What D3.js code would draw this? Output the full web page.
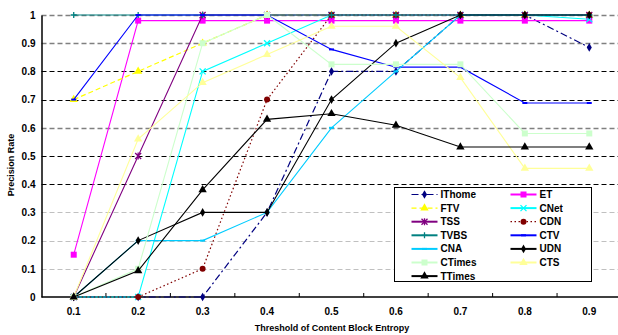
<!DOCTYPE html>
<html>
<head>
<meta charset="utf-8">
<script src="https://cdn.jsdelivr.net/npm/d3@7"></script>
<style>
  body { margin: 0; background: #fff; }
  svg { display: block; font-family: 'Liberation Sans', Arial, sans-serif; font-weight: bold; }
</style>
</head>
<body>
<svg id="chart"></svg>
<script>
const thresholds = ['0.1', '0.2', '0.3', '0.4', '0.5', '0.6', '0.7', '0.8', '0.9'];
const yTicks = [0, 0.1, 0.2, 0.3, 0.4, 0.5, 0.6, 0.7, 0.8, 0.9, 1];

const IThome = [0, 0, 0, 0.3, 0.8, 0.8, 1, 1, 0.885];
const ET     = [0.15, 0.98, 0.98, 0.98, 0.98, 0.98, 0.98, 0.98, 0.98];
const FTV    = [0.7, 0.8, 0.9, 1, 1, 1, 1, 1, 1];
const CNet   = [0, 0, 0.8, 0.9, 1, 1, 1, 1, 0.985];
const TSS    = [0, 0.5, 1, 1, 1, 1, 1, 1, 1];
const CDN    = [0, 0, 0.1, 0.7, 1, 1, 1, 1, 1];
const TVBS   = [1, 1, 1, 1, 1, 1, 1, 1, 1];
const CTV    = [0.7, 1, 1, 1, 0.878, 0.815, 0.815, 0.688, 0.688];
const CNA    = [0, 0.2, 0.2, 0.3, 0.6, 0.8, 1, 1, 1];
const UDN    = [0, 0.2, 0.3, 0.3, 0.7, 0.9, 1, 1, 1];
const CTimes = [0, 0.1, 0.9, 1, 0.825, 0.825, 0.825, 0.58, 0.58];
const CTS    = [0, 0.56, 0.76, 0.86, 0.96, 0.96, 0.778, 0.456, 0.456];
const TTimes = [0, 0.093, 0.38, 0.63, 0.65, 0.609, 0.532, 0.532, 0.532];

const series = [
    {name: 'IThome', values: IThome, color: '#000080', dash: '7,3,2,3', marker: 'diamond'},
    {name: 'ET',     values: ET,     color: '#ff00ff', dash: null,      marker: 'square'},
    {name: 'FTV',    values: FTV,    color: '#ffff00', dash: '5,3',     marker: 'triangle'},
    {name: 'CNet',   values: CNet,   color: '#00ffff', dash: null,      marker: 'x'},
    {name: 'TSS',    values: TSS,    color: '#800080', dash: null,      marker: 'star'},
    {name: 'CDN',    values: CDN,    color: '#800000', dash: '1.5,2.5', marker: 'circle'},
    {name: 'TVBS',   values: TVBS,   color: '#008080', dash: null,      marker: 'plus'},
    {name: 'CTV',    values: CTV,    color: '#0000ff', dash: null,      marker: 'dash'},
    {name: 'CNA',    values: CNA,    color: '#00ccff', dash: null,      marker: 'dash'},
    {name: 'UDN',    values: UDN,    color: '#000000', dash: null,      marker: 'diamond'},
    {name: 'CTimes', values: CTimes, color: '#ccffcc', dash: null,      marker: 'square'},
    {name: 'CTS',    values: CTS,    color: '#ffff99', dash: null,      marker: 'triangle'},
    {name: 'TTimes', values: TTimes, color: '#000000', dash: null,      marker: 'triangle'}
];

const width = 618, height = 335;
const margin = {top: 15, right: -3.5, bottom: 38, left: 41.5};
const inner_width = width - margin.left - margin.right;
const inner_height = height - margin.top - margin.bottom;

const svg = d3.select('#chart')
    .attr('width', width)
    .attr('height', height);

const chart = svg.append('g')
    .attr('transform', `translate(${margin.left}, ${margin.top})`);

const xscale = d3.scaleBand()
    .domain(thresholds)
    .range([0, inner_width]);

const yscale = d3.scaleLinear()
    .domain([0, 1])
    .range([inner_height, 0]);

const cx = d => xscale(d) + xscale.bandwidth() / 2;

// gridlines, styles vary like the original
function gridStyle(v) {
    const k = Math.round(v * 10);
    if (k <= 3) return {stroke: '#c0c0c0', w: 1};
    if (k == 6 || k == 9 || k == 10) return {stroke: '#808080', w: 1.5};
    return {stroke: '#000', w: 1};
}

chart.append('g').selectAll('line')
    .data(yTicks.filter(d => d > 0))
    .join('line')
    .attr('x1', 0)
    .attr('x2', inner_width)
    .attr('y1', d => Math.round(yscale(d)) + 0.5)
    .attr('y2', d => Math.round(yscale(d)) + 0.5)
    .attr('stroke', d => gridStyle(d).stroke)
    .attr('stroke-width', d => gridStyle(d).w)
    .attr('stroke-dasharray', '5,3');

// axes
const yaxis = d3.axisLeft(yscale)
    .tickValues(yTicks)
    .tickFormat(d => d == 0 || d == 1 ? d3.format('d')(d) : d3.format('.1f')(d))
    .tickSize(0)
    .tickPadding(6);

chart.append('g')
    .call(yaxis)
    .call(g => g.select('.domain').attr('stroke', '#000').attr('stroke-width', 1.5))
    .selectAll('text')
    .style('font-size', '10px')
    .style('font-weight', 'bold')
    .style('font-family', "'Liberation Sans', Arial, sans-serif");

const xaxis_group = chart.append('g')
    .attr('transform', `translate(0, ${inner_height})`);

xaxis_group.append('line')
    .attr('x1', 0)
    .attr('x2', inner_width)
    .attr('stroke', '#000')
    .attr('stroke-width', 1.5);

xaxis_group.selectAll('.tk')
    .data(thresholds.slice(1))
    .join('line')
    .attr('class', 'tk')
    .attr('x1', d => xscale(d))
    .attr('x2', d => xscale(d))
    .attr('y1', 0)
    .attr('y2', -4)
    .attr('stroke', '#000');

xaxis_group.selectAll('text')
    .data(thresholds)
    .join('text')
    .attr('x', d => cx(d))
    .attr('y', 18)
    .attr('text-anchor', 'middle')
    .style('font-size', '10px')
    .text(d => d);

// axis labels
svg.append('text')
    .attr('x', 332)
    .attr('y', 331)
    .attr('text-anchor', 'middle')
    .style('font-size', '9px')
    .text('Threshold of Content Block Entropy');

svg.append('text')
    .attr('transform', 'rotate(-90)')
    .attr('x', -165)
    .attr('y', 14)
    .attr('text-anchor', 'middle')
    .style('font-size', '9px')
    .text('Precision Rate');

// markers
function drawMarker(g, type, color, x, y) {
    const s = 3;
    if (type == 'diamond') {
        g.append('path').attr('d', d3.symbol(d3.symbolDiamond, 22)())
            .attr('transform', `translate(${x},${y})`).attr('fill', color);
    } else if (type == 'square') {
        g.append('rect').attr('x', x - s).attr('y', y - s)
            .attr('width', 2 * s).attr('height', 2 * s).attr('fill', color);
    } else if (type == 'triangle') {
        g.append('path').attr('d', d3.symbol(d3.symbolTriangle, 30)())
            .attr('transform', `translate(${x},${y})`).attr('fill', color);
    } else if (type == 'circle') {
        g.append('circle').attr('cx', x).attr('cy', y).attr('r', 3).attr('fill', color);
    } else if (type == 'x') {
        g.append('path').attr('d', `M${x - s},${y - s}L${x + s},${y + s}M${x - s},${y + s}L${x + s},${y - s}`)
            .attr('stroke', color).attr('stroke-width', 1.3);
    } else if (type == 'plus') {
        g.append('path').attr('d', `M${x - s},${y}L${x + s},${y}M${x},${y - s}L${x},${y + s}`)
            .attr('stroke', color).attr('stroke-width', 1.3);
    } else if (type == 'star') {
        g.append('path').attr('d', `M${x - s},${y - s}L${x + s},${y + s}M${x - s},${y + s}L${x + s},${y - s}M${x},${y - s - 0.5}L${x},${y + s + 0.5}`)
            .attr('stroke', color).attr('stroke-width', 1.3);
    } else if (type == 'dash') {
        g.append('path').attr('d', `M${x - 2.5},${y}L${x + 2.5},${y}`)
            .attr('stroke', color).attr('stroke-width', 2);
    }
}

const line = d3.line()
    .x((d, i) => cx(thresholds[i]))
    .y(d => yscale(d));

series.forEach(s => {
    const g = chart.append('g');
    g.append('path')
        .attr('d', line(s.values))
        .attr('fill', 'none')
        .attr('stroke', s.color)
        .attr('stroke-width', s.dash ? 1.2 : 1.1)
        .attr('stroke-dasharray', s.dash);
    s.values.forEach((v, i) => drawMarker(g, s.marker, s.color, cx(thresholds[i]), yscale(v)));
});

// legend
const legend = svg.append('g')
    .attr('transform', 'translate(394.5, 187.5)');

legend.append('rect')
    .attr('width', 197)
    .attr('height', 94)
    .attr('fill', '#fff')
    .attr('stroke', '#000')
    .attr('stroke-width', 1);

series.forEach((s, i) => {
    const col = i % 2, row = Math.floor(i / 2);
    const lx = 17 + col * 99, ly = 7 + row * 13.6;
    const item = legend.append('g');
    item.append('line')
        .attr('x1', lx).attr('x2', lx + 26)
        .attr('y1', ly).attr('y2', ly)
        .attr('stroke', s.color)
        .attr('stroke-width', s.dash ? 1.2 : 2)
        .attr('stroke-dasharray', s.dash);
    drawMarker(item, s.marker, s.color, lx + 13, ly);
    item.append('text')
        .attr('x', lx + 29)
        .attr('y', ly + 3.5)
        .style('font-size', '10px')
        .text(s.name);
});
</script>
</body>
</html>
